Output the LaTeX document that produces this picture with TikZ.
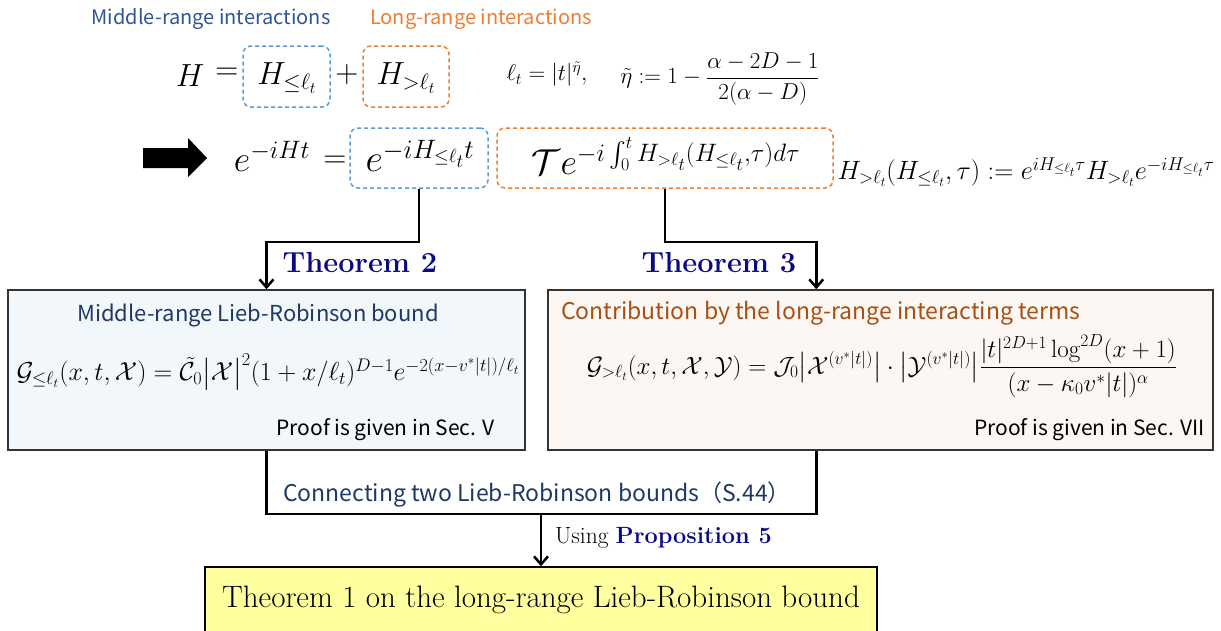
\documentclass[tikz,border=0pt]{standalone}
\usepackage{fix-cm}
\usepackage{amsmath,amssymb}
\usepackage{fontspec}
\newfontfamily\jp{Noto Sans CJK JP}
\usetikzlibrary{arrows.meta,calc}
\definecolor{lblue}{RGB}{47,85,151}
\definecolor{dblue}{RGB}{91,155,213}
\definecolor{dorange}{RGB}{237,125,49}
\definecolor{ttlblue}{RGB}{31,56,100}
\definecolor{ttlbrown}{RGB}{166,80,20}
\definecolor{navy}{RGB}{10,10,130}
\definecolor{lbfill}{RGB}{242,247,251}
\definecolor{rbfill}{RGB}{252,247,243}
\definecolor{ybfill}{RGB}{255,255,160}
\tikzset{
  dashbox/.style={draw, dash pattern=on 4pt off 3pt, rounded corners=8pt, line width=1.5pt, inner sep=0pt},
  bigbox/.style={draw=black!80, line width=1.5pt, inner sep=0pt},
  conn/.style={line width=2.5pt, black},
  arr/.style={conn, -{Straight Barb[length=8pt,width=14pt,line width=2.5pt]}},
  sans/.style={font=\jp\fontsize{21}{25}\selectfont, inner sep=0pt},
  bigmath/.style={font=\fontsize{32}{38}\selectfont, inner sep=0pt},
  hugemath/.style={font=\fontsize{36}{42}\selectfont, inner sep=0pt},
  midmath/.style={font=\fontsize{25}{30}\selectfont, inner sep=0pt},
  thm/.style={font=\bfseries\fontsize{29}{34}\selectfont, text=navy, inner sep=0pt},
}
\begin{document}
\begin{tikzpicture}[x=1pt,y=-1pt]
\useasboundingbox (0,0) rectangle (1221,630);
\clip (0,0) rectangle (1221,630);
% top labels
\node[sans, text=lblue, font=\jp\fontsize{20}{24}\selectfont] (mi) at (211,19) {Middle-range interactions};
\node[sans, text=dorange, font=\jp\fontsize{20}{24}\selectfont] (li) at (481,19) {Long-range interactions};
% first equation
\node[bigmath] (H) at (190,76) {$H$};
\node[bigmath] (eqa) at (227,74) {$=$};
\node[dashbox, draw=dblue, minimum width=87pt, minimum height=61pt] (Hle) at (286.5,76.5) {};
\node[bigmath] (Hletxt) at (287,78) {$H_{\le\ell_t}$};
\node[bigmath] (plus) at (347,74) {$+$};
\node[dashbox, draw=dorange, minimum width=86pt, minimum height=61pt] (Hgt) at (406,76.5) {};
\node[bigmath] (Hgttxt) at (406,78) {$H_{>\ell_t}$};
\node[midmath, font=\fontsize{23}{28}\selectfont] (lt) at (547,74) {$\ell_t=|t|^{\tilde\eta},$};
\node[midmath, font=\fontsize{23}{28}\selectfont] (eta) at (720,79) {$\tilde\eta:=1-\dfrac{\alpha-2D-1}{2(\alpha-D)}$};
% fat arrow
\fill[black] (143,148) -- (188,148) -- (188,138) -- (207,158) -- (188,177) -- (188,168) -- (143,168) -- cycle;
% second equation
\node[hugemath] (lhs) at (272,156) {$e^{-iHt}$};
\node[bigmath] (eqb) at (335,162) {$=$};
\node[dashbox, draw=dblue, minimum width=138pt, minimum height=60pt] (ble) at (419,158) {};
\node[hugemath, font=\fontsize{38}{44}\selectfont] (bletxt) at (420,156) {$e^{-iH_{\le\ell_t}t}$};
\node[dashbox, draw=dorange, minimum width=336pt, minimum height=60pt] (bgt) at (665,158) {};
\node[hugemath] (bgttxt) at (666,156) {$\mathcal{T}e^{-i\int_0^t H_{>\ell_t}(H_{\le\ell_t},\tau)d\tau}$};
\node[midmath, font=\fontsize{26.5}{31}\selectfont] (def) at (1026,172) {$H_{>\ell_t}(H_{\le\ell_t},\tau):=e^{iH_{\le\ell_t}\tau}H_{>\ell_t}e^{-iH_{\le\ell_t}\tau}$};
% big boxes
\node[bigbox, fill=lbfill, minimum width=517pt, minimum height=160pt] (lbox) at (266.5,370) {};
\node[bigbox, fill=rbfill, minimum width=665pt, minimum height=160pt] (rbox) at (880.5,370) {};
\node[sans, text=ttlblue, font=\jp\fontsize{22}{26}\selectfont] (ltitle) at (258,315) {Middle-range Lieb-Robinson bound};
\node[midmath, font=\fontsize{26}{31}\selectfont] (lform) at (268,372) {$\mathcal{G}_{\le\ell_t}(x,t,\mathcal{X})=\tilde{\mathcal{C}}_0\bigl|\mathcal{X}\bigr|^2(1+x/\ell_t)^{D-1}e^{-2(x-v^*|t|)/\ell_t}$};
\node[sans, anchor=east] (lproof) at (495,430) {Proof is given in Sec. V};
\node[sans, text=ttlbrown, anchor=west, font=\jp\fontsize{23}{27}\selectfont] (rtitle) at (561,313) {Contribution by the long-range interacting terms};
\node[midmath] (rform) at (882,366) {$\mathcal{G}_{>\ell_t}(x,t,\mathcal{X},\mathcal{Y})=\mathcal{J}_0\bigl|\mathcal{X}^{(v^*|t|)}\bigr|\cdot\bigl|\mathcal{Y}^{(v^*|t|)}\bigr|\dfrac{|t|^{2D+1}\log^{2D}(x+1)}{(x-\kappa_0v^*|t|)^\alpha}$};
\node[sans, anchor=east] (rproof) at (1205,430) {Proof is given in Sec. VII};
% bottom box
\node[bigbox, draw=black, fill=ybfill, minimum width=672pt, minimum height=90pt] (bbox) at (541,612) {};
\node[inner sep=0pt, font=\fontsize{31}{37}\selectfont] (btxt) at (541,600) {Theorem 1 on the long-range Lieb-Robinson bound};
% theorem labels
\node[thm] (t2) at (360,263) {Theorem 2};
\node[thm] (t3) at (719,263) {Theorem 3};
% connectors
\draw[arr] (ble.south) -- ++(0,53) -| (lbox.north);
\coordinate (rin) at ($(rbox.north west)+(269,0)$);
\coordinate (rout) at ($(rbox.south west)+(269,0)$);
\draw[arr] (bgt.south) -- ++(0,53) -| (rin);
\draw[conn] (lbox.south) -- ++(0,63) coordinate (ul) -| (rout);
\draw[arr] (bbox.north |- ul) -- (bbox.north);
\node[sans, text=ttlblue, anchor=west, font=\jp\fontsize{23}{27}\selectfont] (conntxt) at (283,495) {Connecting two Lieb-Robinson bounds（S.44）};
\node[inner sep=0pt, anchor=west, font=\fontsize{23.5}{28}\selectfont] (using) at (555,538) {Using \textcolor{navy}{\bfseries Proposition 5}};
\end{tikzpicture}
\end{document}
